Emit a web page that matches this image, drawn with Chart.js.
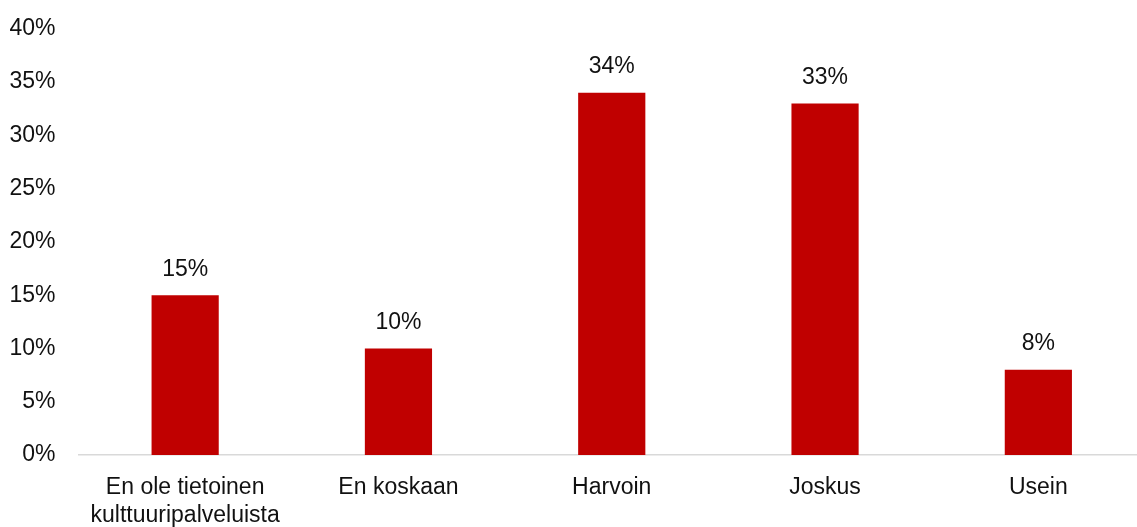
<!DOCTYPE html>
<html lang="fi">
<head>
<meta charset="utf-8">
<title>Kulttuuripalvelut</title>
<script src="https://cdn.jsdelivr.net/npm/chart.js@4.4.1/dist/chart.umd.min.js"></script>
<style>
  html, body { margin: 0; padding: 0; background: #fff; overflow: hidden; }
  #kaavio { display: block; }
</style>
</head>
<body>
<canvas id="kaavio" width="1145" height="527"></canvas>
<script>
// Vastausten jakauma (%)
const kategoriat = [
  ["En ole tietoinen", "kulttuuripalveluista"],
  "En koskaan",
  "Harvoin",
  "Joskus",
  "Usein"
];
const osuudet = [15, 10, 34, 33, 8];
const yTikit = [0, 5, 10, 15, 20, 25, 30, 35, 40];

const fontti = "'Liberation Sans', Arial, sans-serif";
const tekstiVari = "#111111";

// Arvot pylväiden yläpuolelle
const arvoTekstit = {
  id: "arvoTekstit",
  afterDatasetsDraw(chart) {
    const ctx = chart.ctx;
    const meta = chart.getDatasetMeta(0);
    ctx.save();
    ctx.font = "23px " + fontti;
    ctx.fillStyle = tekstiVari;
    ctx.textAlign = "center";
    ctx.textBaseline = "middle";
    meta.data.forEach((pylvas, i) => {
      ctx.fillText(osuudet[i] + "%", pylvas.x, pylvas.y - 26);
    });
    ctx.restore();
  }
};

const config = {
  type: "bar",
  data: {
    labels: kategoriat,
    datasets: [{
      data: osuudet,
      backgroundColor: "#C00000",
      barPercentage: 1,
      categoryPercentage: 0.315
    }]
  },
  options: {
    responsive: false,
    animation: false,
    layout: { padding: { top: 11, left: 0, right: 0, bottom: 0 } },
    plugins: {
      legend: { display: false },
      tooltip: { enabled: false }
    },
    scales: {
      x: {
        grid: { display: false },
        border: { display: true, color: "#d9d9d9", width: 1.5 },
        ticks: {
          color: tekstiVari,
          font: { family: fontti, size: 23, lineHeight: 1.2 },
          padding: 11,
          maxRotation: 0,
          autoSkip: false
        },
        afterFit(scale) { scale.height = 72; }
      },
      y: {
        min: 0,
        max: 40,
        afterBuildTicks(scale) {
          scale.ticks = yTikit.map(v => ({ value: v }));
        },
        grid: { display: false },
        border: { display: false },
        ticks: {
          color: tekstiVari,
          font: { family: fontti, size: 23 },
          padding: 15,
          callback: v => v + "%"
        },
        afterFit(scale) { scale.width = 78.5; }
      }
    }
  },
  plugins: [arvoTekstit]
};

const kaavio = new Chart(document.getElementById("kaavio"), config);
</script>
</body>
</html>
